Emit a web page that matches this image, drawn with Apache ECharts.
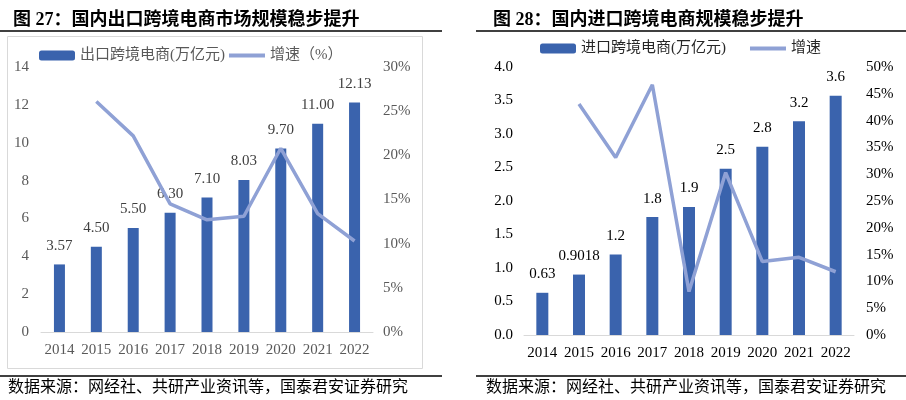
<!DOCTYPE html>
<html><head><meta charset="utf-8">
<script src="https://cdn.jsdelivr.net/npm/echarts@6/dist/echarts.min.js"></script>
<style>html,body{margin:0;padding:0;background:#fff}#c{width:906px;height:400px}</style>
</head><body><div id="c"></div>
<script>
const years = ['2014','2015','2016','2017','2018','2019','2020','2021','2022'];
const exportScale = [3.57, 4.50, 5.50, 6.30, 7.10, 8.03, 9.70, 11.00, 12.13];
const exportGrowth = [null, 26.1, 22.2, 14.5, 12.7, 13.1, 20.8, 13.4, 10.3];
const importScale = [0.63, 0.9018, 1.2, 1.76, 1.91, 2.48, 2.81, 3.19, 3.57];
const importLabels = ['0.63', '0.9018', '1.2', '1.8', '1.9', '2.5', '2.8', '3.2', '3.6'];
const importGrowth = [null, 43.1, 33.1, 46.7, 8.1, 30.3, 13.7, 14.5, 11.8];

const SERIF = '"Liberation Serif","Noto Sans CJK SC",serif';
const BAR = '#3A63AD';
const LINE = '#8FA1D5';
const LINE_ICON = 'path://M0,0H36V4H0Z';
const chart = echarts.init(document.getElementById('c'), null, {renderer: 'canvas'});
const numFont = {fontFamily: SERIF, fontSize: 15};

chart.setOption({
  animation: false,
  title: [
    {text: '图 27：国内出口跨境电商市场规模稳步提升', left: 8, top: 6,
     textStyle: {fontFamily: SERIF, fontSize: 18, fontWeight: 'bold', color: '#000'}},
    {text: '图 28：国内进口跨境电商规模稳步提升', left: 488, top: 6,
     textStyle: {fontFamily: SERIF, fontSize: 18, fontWeight: 'bold', color: '#000'}}
  ],
  legend: [
    {data: ['出口跨境电商(万亿元)', {name: '增速（%）', icon: LINE_ICON}], left: 39, top: 48, padding: 0,
     itemWidth: 36, itemHeight: 10, itemGap: 4,
     textStyle: {fontFamily: SERIF, fontSize: 15, color: '#595959'}},
    {data: ['进口跨境电商(万亿元)', {name: '增速', icon: LINE_ICON}], left: 540, top: 41, padding: 0,
     itemWidth: 36, itemHeight: 10, itemGap: 24,
     textStyle: {fontFamily: SERIF, fontSize: 15, color: '#262626'}}
  ],
  grid: [
    {left: 41, right: 533, top: 67, bottom: 68},
    {left: 524, right: 52, top: 67, bottom: 65}
  ],
  xAxis: [
    {type: 'category', data: years, gridIndex: 0,
     axisLine: {lineStyle: {color: '#d9d9d9'}}, axisTick: {show: false},
     axisLabel: Object.assign({color: '#595959', margin: 11, interval: 0}, numFont)},
    {type: 'category', data: years, gridIndex: 1,
     axisLine: {lineStyle: {color: '#d9d9d9'}}, axisTick: {show: false},
     axisLabel: Object.assign({color: '#000', margin: 11, interval: 0}, numFont)}
  ],
  yAxis: [
    {type: 'value', gridIndex: 0, min: 0, max: 14, interval: 2, splitLine: {show: false},
     axisLabel: Object.assign({color: '#595959', margin: 12}, numFont)},
    {type: 'value', gridIndex: 0, min: 0, max: 30, interval: 5, splitLine: {show: false},
     axisLabel: Object.assign({color: '#595959', margin: 10, formatter: '{value}%'}, numFont)},
    {type: 'value', gridIndex: 1, min: 0, max: 4, interval: 0.5, splitLine: {show: false},
     axisLabel: Object.assign({color: '#000', margin: 11, formatter: v => v.toFixed(1)}, numFont)},
    {type: 'value', gridIndex: 1, min: 0, max: 50, interval: 5, splitLine: {show: false},
     axisLabel: Object.assign({color: '#000', margin: 12, formatter: '{value}%'}, numFont)}
  ],
  series: [
    {name: '出口跨境电商(万亿元)', type: 'bar', xAxisIndex: 0, yAxisIndex: 0, data: exportScale, barWidth: 11,
     itemStyle: {color: BAR},
     label: Object.assign({show: true, position: 'top', distance: 11, color: '#404040',
       formatter: p => p.value.toFixed(2)}, numFont)},
    {name: '增速（%）', type: 'line', xAxisIndex: 0, yAxisIndex: 1, data: exportGrowth,
     symbol: 'none', lineStyle: {color: LINE, width: 3.5}, itemStyle: {color: LINE}, z: 5},
    {name: '进口跨境电商(万亿元)', type: 'bar', xAxisIndex: 1, yAxisIndex: 2, data: importScale, barWidth: 12,
     itemStyle: {color: BAR},
     label: Object.assign({show: true, position: 'top', distance: 11, color: '#000',
       formatter: p => importLabels[p.dataIndex]}, numFont)},
    {name: '增速', type: 'line', xAxisIndex: 1, yAxisIndex: 3, data: importGrowth,
     symbol: 'none', lineStyle: {color: LINE, width: 3.5}, itemStyle: {color: LINE}, z: 5}
  ],
  graphic: [
    {type: 'line', shape: {x1: 0, y1: 31, x2: 442, y2: 31}, style: {stroke: '#000', lineWidth: 1.5}},
    {type: 'line', shape: {x1: 476, y1: 31, x2: 906, y2: 31}, style: {stroke: '#000', lineWidth: 1.5}},
    {type: 'rect', shape: {x: 7.5, y: 36.5, width: 415, height: 332}, style: {fill: 'none', stroke: '#d9d9d9', lineWidth: 1}, silent: true},
    {type: 'line', shape: {x1: 0, y1: 376, x2: 442, y2: 376}, style: {stroke: '#000', lineWidth: 1.5}},
    {type: 'line', shape: {x1: 476, y1: 376, x2: 906, y2: 376}, style: {stroke: '#000', lineWidth: 1.5}},
    {type: 'text', left: 8, top: 380, style: {text: '数据来源：网经社、共研产业资讯等，国泰君安证券研究', fontFamily: SERIF, fontSize: 16, fill: '#000'}},
    {type: 'text', left: 486, top: 380, style: {text: '数据来源：网经社、共研产业资讯等，国泰君安证券研究', fontFamily: SERIF, fontSize: 16, fill: '#000'}}
  ]
});
</script></body></html>
